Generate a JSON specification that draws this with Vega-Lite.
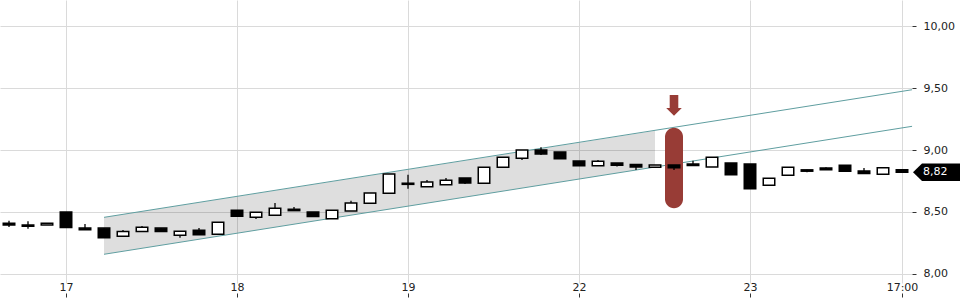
{
  "$schema": "https://vega.github.io/schema/vega-lite/v6.json",
  "width": 912,
  "height": 283,
  "autosize": "none",
  "padding": {"left": 0, "top": 0, "right": 48, "bottom": 17},
  "config": {
    "font": "DejaVu Sans",
    "view": {"stroke": null},
    "scale": {"continuousPadding": 0},
    "locale": {"number": {"decimal": ",", "thousands": ".", "grouping": [3], "currency": ["", " €"]}},
    "axis": {"labelFont": "DejaVu Sans", "labelFontSize": 11, "labelColor": "#222", "gridColor": "#dadada", "gridWidth": 1, "domain": false, "title": null}
  },
  "datasets": {
    "candles": [
      {"i": 0, "o": 8.41, "h": 8.43, "l": 8.38, "c": 8.395},
      {"i": 1, "o": 8.395, "h": 8.425, "l": 8.365, "c": 8.385},
      {"i": 2, "o": 8.395, "h": 8.41, "l": 8.395, "c": 8.41},
      {"i": 3, "o": 8.5, "h": 8.5, "l": 8.375, "c": 8.375},
      {"i": 4, "o": 8.37, "h": 8.403, "l": 8.357, "c": 8.357},
      {"i": 5, "o": 8.37, "h": 8.37, "l": 8.293, "c": 8.293},
      {"i": 6, "o": 8.305, "h": 8.355, "l": 8.305, "c": 8.343},
      {"i": 7, "o": 8.342, "h": 8.387, "l": 8.342, "c": 8.377},
      {"i": 8, "o": 8.37, "h": 8.37, "l": 8.342, "c": 8.342},
      {"i": 9, "o": 8.312, "h": 8.344, "l": 8.293, "c": 8.344},
      {"i": 10, "o": 8.352, "h": 8.371, "l": 8.317, "c": 8.317},
      {"i": 11, "o": 8.32, "h": 8.417, "l": 8.32, "c": 8.417},
      {"i": 12, "o": 8.514, "h": 8.514, "l": 8.465, "c": 8.465},
      {"i": 13, "o": 8.457, "h": 8.498, "l": 8.444, "c": 8.498},
      {"i": 14, "o": 8.474, "h": 8.573, "l": 8.474, "c": 8.53},
      {"i": 15, "o": 8.522, "h": 8.54, "l": 8.511, "c": 8.511},
      {"i": 16, "o": 8.5, "h": 8.5, "l": 8.463, "c": 8.463},
      {"i": 17, "o": 8.446, "h": 8.514, "l": 8.446, "c": 8.514},
      {"i": 18, "o": 8.508, "h": 8.591, "l": 8.508, "c": 8.573},
      {"i": 19, "o": 8.57, "h": 8.653, "l": 8.57, "c": 8.653},
      {"i": 20, "o": 8.651, "h": 8.806, "l": 8.651, "c": 8.806},
      {"i": 21, "o": 8.732, "h": 8.8, "l": 8.688, "c": 8.723},
      {"i": 22, "o": 8.704, "h": 8.758, "l": 8.704, "c": 8.742},
      {"i": 23, "o": 8.72, "h": 8.774, "l": 8.72, "c": 8.756},
      {"i": 24, "o": 8.774, "h": 8.774, "l": 8.726, "c": 8.734},
      {"i": 25, "o": 8.731, "h": 8.86, "l": 8.731, "c": 8.86},
      {"i": 26, "o": 8.86, "h": 8.941, "l": 8.86, "c": 8.941},
      {"i": 27, "o": 8.933, "h": 9.0, "l": 8.919, "c": 9.0},
      {"i": 28, "o": 9.0, "h": 9.022, "l": 8.96, "c": 8.968},
      {"i": 29, "o": 8.984, "h": 8.984, "l": 8.93, "c": 8.93},
      {"i": 30, "o": 8.911, "h": 8.911, "l": 8.873, "c": 8.873},
      {"i": 31, "o": 8.873, "h": 8.919, "l": 8.873, "c": 8.909},
      {"i": 32, "o": 8.895, "h": 8.895, "l": 8.866, "c": 8.877},
      {"i": 33, "o": 8.883, "h": 8.883, "l": 8.839, "c": 8.863},
      {"i": 34, "o": 8.861, "h": 8.879, "l": 8.861, "c": 8.879},
      {"i": 35, "o": 8.879, "h": 8.879, "l": 8.839, "c": 8.857},
      {"i": 36, "o": 8.887, "h": 8.914, "l": 8.874, "c": 8.874},
      {"i": 37, "o": 8.863, "h": 8.941, "l": 8.863, "c": 8.941},
      {"i": 38, "o": 8.895, "h": 8.895, "l": 8.8, "c": 8.8},
      {"i": 39, "o": 8.887, "h": 8.887, "l": 8.688, "c": 8.688},
      {"i": 40, "o": 8.715, "h": 8.772, "l": 8.715, "c": 8.772},
      {"i": 41, "o": 8.796, "h": 8.86, "l": 8.796, "c": 8.86},
      {"i": 42, "o": 8.84, "h": 8.84, "l": 8.82, "c": 8.829},
      {"i": 43, "o": 8.855, "h": 8.86, "l": 8.841, "c": 8.841},
      {"i": 44, "o": 8.877, "h": 8.877, "l": 8.828, "c": 8.828},
      {"i": 45, "o": 8.831, "h": 8.855, "l": 8.81, "c": 8.81},
      {"i": 46, "o": 8.804, "h": 8.857, "l": 8.804, "c": 8.857},
      {"i": 47, "o": 8.84, "h": 8.84, "l": 8.82, "c": 8.82}
    ],
    "channelFill": [
      {"i": 5, "up": 8.457, "lo": 8.159},
      {"i": 34, "up": 9.155, "lo": 8.862}
    ],
    "channelLines": [
      {"x1": 5, "y1": 8.457, "x2": 47.53, "y2": 9.486},
      {"x1": 5, "y1": 8.159, "x2": 47.53, "y2": 9.191}
    ],
    "marker": [
      {"i": 35, "top": 9.18, "bottom": 8.53, "arrow": 9.36}
    ]
  },
  "layer": [
    {
      "data": {"name": "channelFill"},
      "mark": {"type": "area", "fill": "#000000", "fillOpacity": 0.13, "stroke": null},
      "encoding": {
        "x": {"field": "i", "type": "quantitative", "scale": {"domain": [-0.4737, 47.5263], "zero": false, "nice": false, "padding": 0},
          "axis": {"values": [3, 12, 21, 30, 39, 47], "grid": true, "labelExpr": "datum.value == 3 ? '17' : datum.value == 12 ? '18' : datum.value == 21 ? '19' : datum.value == 30 ? '22' : datum.value == 39 ? '23' : '17:00'", "ticks": true, "tickSize": 14, "tickDash": [0, 10, 4, 0], "tickColor": "#333", "labelPadding": -16, "labelBaseline": "top", "labelFlush": false, "labelOverlap": false}},
        "y": {"field": "up", "type": "quantitative", "scale": {"domain": [7.9274, 10.2097], "zero": false, "nice": false, "padding": 0},
          "axis": {"orient": "right", "values": [8, 8.5, 9, 9.5, 10], "format": ".2f", "grid": true, "tickSize": 4, "tickColor": "#333", "labelPadding": 7}},
        "y2": {"field": "lo"}
      }
    },
    {
      "data": {"name": "channelLines"},
      "mark": {"type": "rule", "color": "#5f9ea0", "strokeWidth": 1},
      "encoding": {
        "x": {"field": "x1", "type": "quantitative", "scale": {"domain": [-0.4737, 47.5263], "zero": false, "nice": false, "padding": 0}},
        "x2": {"field": "x2"},
        "y": {"field": "y1", "type": "quantitative", "scale": {"domain": [7.9274, 10.2097], "zero": false, "nice": false, "padding": 0}},
        "y2": {"field": "y2"}
      }
    },
    {
      "data": {"name": "marker"},
      "mark": {"type": "bar", "color": "#983c36", "size": 18, "cornerRadius": 9},
      "encoding": {
        "x": {"field": "i", "type": "quantitative", "scale": {"domain": [-0.4737, 47.5263], "zero": false, "nice": false, "padding": 0}},
        "y": {"field": "top", "type": "quantitative", "scale": {"domain": [7.9274, 10.2097], "zero": false, "nice": false, "padding": 0}},
        "y2": {"field": "bottom"}
      }
    },
    {
      "data": {"name": "candles"},
      "mark": {"type": "rule", "color": "#000000", "strokeWidth": 1.3},
      "encoding": {
        "x": {"field": "i", "type": "quantitative", "scale": {"domain": [-0.4737, 47.5263], "zero": false, "nice": false, "padding": 0}},
        "y": {"field": "l", "type": "quantitative", "scale": {"domain": [7.9274, 10.2097], "zero": false, "nice": false, "padding": 0}},
        "y2": {"field": "h"}
      }
    },
    {
      "data": {"name": "candles"},
      "mark": {"type": "bar", "size": 11.5, "stroke": "#000000", "strokeWidth": 1.5},
      "encoding": {
        "x": {"field": "i", "type": "quantitative", "scale": {"domain": [-0.4737, 47.5263], "zero": false, "nice": false, "padding": 0}},
        "y": {"field": "o", "type": "quantitative", "scale": {"domain": [7.9274, 10.2097], "zero": false, "nice": false, "padding": 0}},
        "y2": {"field": "c"},
        "fill": {"condition": {"test": "datum.c < datum.o", "value": "#000000"}, "value": "#ffffff"}
      }
    },
    {
      "data": {"name": "marker"},
      "mark": {"type": "point", "filled": true, "color": "#983c36", "opacity": 1, "size": 4, "strokeWidth": 0,
        "shape": "M-4.3,-10.3 L4.3,-10.3 L4.3,2.7 L7.8,2.7 L0,10.4 L-7.8,2.7 L-4.3,2.7 Z"},
      "encoding": {
        "x": {"field": "i", "type": "quantitative", "scale": {"domain": [-0.4737, 47.5263], "zero": false, "nice": false, "padding": 0}},
        "y": {"field": "arrow", "type": "quantitative", "scale": {"domain": [7.9274, 10.2097], "zero": false, "nice": false, "padding": 0}}
      }
    },
    {
      "data": {"name": "candles"},
      "transform": [{"filter": "datum.i == 47"}],
      "mark": {"type": "point", "filled": true, "color": "#000000", "opacity": 1, "size": 4, "strokeWidth": 0,
        "shape": "M1,0 L10,-8.7 L48,-8.7 L48,8.7 L10,8.7 Z"},
      "encoding": {
        "x": {"value": "width"},
        "y": {"field": "c", "type": "quantitative", "scale": {"domain": [7.9274, 10.2097], "zero": false, "nice": false, "padding": 0}}
      }
    },
    {
      "data": {"name": "candles"},
      "transform": [{"filter": "datum.i == 47"}],
      "mark": {"type": "text", "color": "#ffffff", "font": "DejaVu Sans", "fontSize": 11, "align": "left", "baseline": "middle", "dx": 11},
      "encoding": {
        "x": {"value": "width"},
        "y": {"field": "c", "type": "quantitative", "scale": {"domain": [7.9274, 10.2097], "zero": false, "nice": false, "padding": 0}},
        "text": {"field": "c", "type": "quantitative", "format": ".2f"}
      }
    }
  ]
}
